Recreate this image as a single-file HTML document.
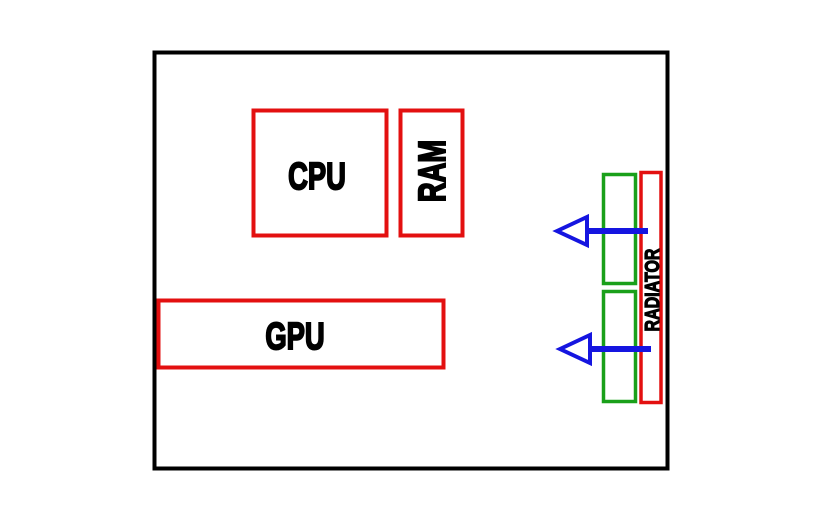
<!DOCTYPE html>
<html><head><meta charset="utf-8"><style>
html,body{margin:0;padding:0;background:#fff;}
svg{display:block;}
text{font-family:"Liberation Sans",sans-serif;font-weight:bold;fill:#000;stroke:#000;}
</style></head><body>
<svg width="822" height="522" viewBox="0 0 822 522" xmlns="http://www.w3.org/2000/svg">
<rect x="0" y="0" width="822" height="522" fill="#fff"/>
<rect x="154.5" y="52.5" width="513" height="416" fill="none" stroke="#000" stroke-width="4"/>
<rect x="253.5" y="110.5" width="133" height="125" fill="none" stroke="#e31010" stroke-width="4"/>
<rect x="400.5" y="110.5" width="62" height="125" fill="none" stroke="#e31010" stroke-width="4"/>
<rect x="158.5" y="300.5" width="285" height="67" fill="none" stroke="#e31010" stroke-width="4"/>
<rect x="603.5" y="174.5" width="32" height="109" fill="none" stroke="#1aa01a" stroke-width="3.5"/>
<rect x="603.5" y="291.5" width="32" height="110" fill="none" stroke="#1aa01a" stroke-width="3.5"/>
<rect x="641" y="172.5" width="20" height="230" fill="none" stroke="#e31010" stroke-width="3.5"/>
<g stroke="#1515e0" fill="none">
<line x1="648" y1="231" x2="586" y2="231" stroke-width="6"/>
<polygon points="557,231 587,217 587,245" stroke-width="4"/>
<line x1="651" y1="349" x2="589" y2="349" stroke-width="6"/>
<polygon points="560,349 590,335 590,363" stroke-width="4"/>
</g>
<text x="317" y="189" font-size="38" stroke-width="2" text-anchor="middle" transform="translate(317 0) scale(0.72 1) translate(-317 0)">CPU</text>
<text x="295" y="349" font-size="38" stroke-width="2" text-anchor="middle" transform="translate(295 0) scale(0.72 1) translate(-295 0)">GPU</text>
<g transform="translate(445 171) rotate(-90)"><text x="0" y="0" font-size="38" stroke-width="2" text-anchor="middle" transform="scale(0.72 1)">RAM</text></g>
<g transform="translate(659 290) rotate(-90)"><text x="0" y="0" font-size="20" stroke-width="1.2" text-anchor="middle" transform="scale(0.8 1)">RADIATOR</text></g>
</svg>
</body></html>
